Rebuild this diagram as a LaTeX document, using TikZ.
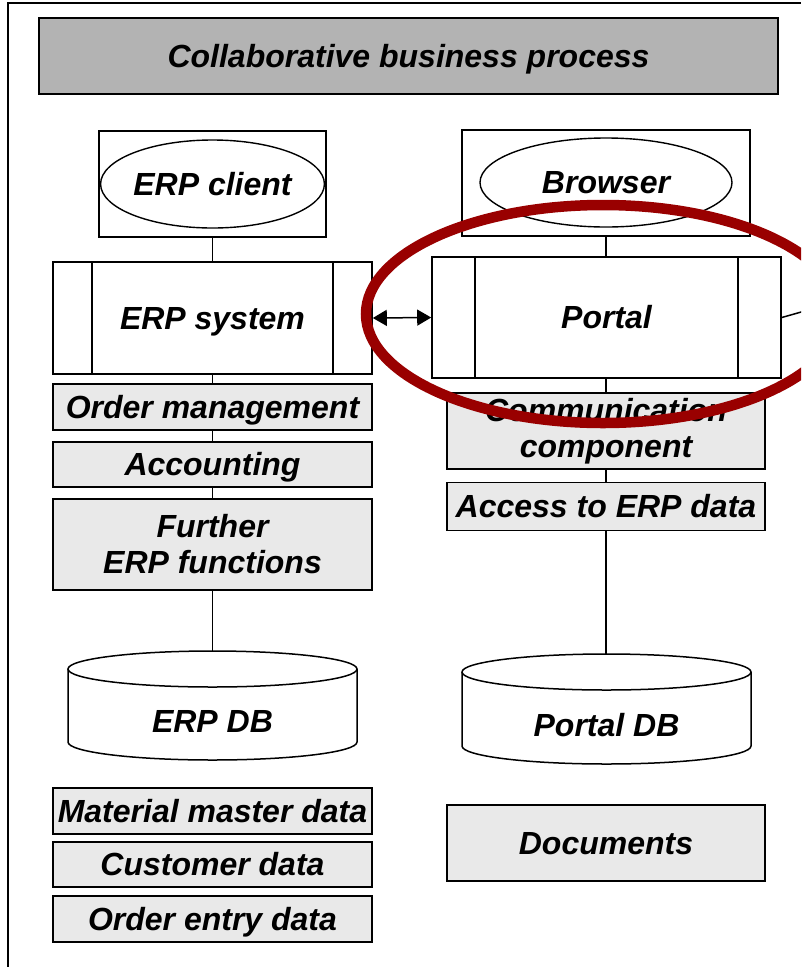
\documentclass[tikz,border=0pt]{standalone}
\usepackage{fontspec}
\setmainfont{Liberation Sans}
\usetikzlibrary{arrows.meta,shapes.geometric}
\definecolor{titlegray}{RGB}{179,179,179}
\definecolor{boxgray}{RGB}{233,233,233}
\definecolor{ringred}{RGB}{153,0,0}
\tikzset{
  lbl/.style={font=\fontsize{32}{36}\selectfont\bfseries\itshape, align=center},
  oneline/.style={text height=25pt, text depth=3pt},
  plainbox/.style={draw, line width=1.6pt, fill=white, inner sep=0pt, lbl},
  graybox/.style={draw, line width=1.9pt, fill=boxgray, inner sep=0pt, lbl},
  oval/.style={ellipse, draw, line width=1.4pt, inner sep=0pt, lbl},
  dbtext/.style={inner sep=0pt, lbl},
  dbshape/.style={draw, line width=1.5pt, fill=white},
  link/.style={line width=1.5pt},
  twoway/.style={line width=1.5pt, {Triangle[length=14pt, width=16pt]}-{Triangle[length=14pt, width=16pt]}},
  ring/.style={draw=ringred, line width=10.5pt},
}
\begin{document}
\begin{tikzpicture}
\begin{scope}[x=1pt,y=-1pt]
\useasboundingbox (0,0) rectangle (801,967);
\clip (0,0) rectangle (801,967);
\fill[white] (0,0) rectangle (801,967);

% outer frame (only left and top edges lie on the page)
\coordinate (fbl) at (8,967);
\coordinate (ftl) at (8,3);
\coordinate (ftr) at (801,3);
\draw[line width=1.5pt] (fbl) -- (ftl) -- (ftr);

% title bar
\node[draw, line width=2.4pt, fill=titlegray, inner sep=0pt, oneline,
      minimum width=739pt, minimum height=76pt,
      font=\fontsize{32}{36}\selectfont\bfseries\itshape] (title) at (408.5,56) {Collaborative business process};

% ---------- ERP column ----------
\node[plainbox, minimum width=227pt, minimum height=106pt] (erpclientbox) at (212.5,184) {};
\node[oval, oneline, minimum width=199pt, minimum height=88pt] (erpclient) at (212.5,184) {ERP client};

\node[plainbox, oneline, minimum width=319pt, minimum height=112pt] (erpsys) at (212.5,318) {ERP system};
\draw[link] ([xshift=40pt]erpsys.north west) -- ([xshift=40pt]erpsys.south west);
\draw[link] ([xshift=-40pt]erpsys.north east) -- ([xshift=-40pt]erpsys.south east);

\node[graybox, oneline, minimum width=319pt, minimum height=46pt] (ordermgmt) at (212.5,407) {Order management};
\node[graybox, oneline, minimum width=319pt, minimum height=45pt] (accounting) at (212.5,464.5) {Accounting};
\node[graybox, minimum width=319pt, minimum height=91pt] (further) at (212.5,544.5) {Further\\ERP functions};

% ERP database cylinder
\node[inner sep=0pt, minimum width=289pt, minimum height=109pt] (erpdb) at (212.5,705.5) {};
\draw[dbshape] (68,669) -- (68,742) arc[start angle=180, end angle=360, x radius=144.5pt, y radius=18pt]
  -- (357,669);
\draw[dbshape] (212.5,669) ellipse [x radius=144.5pt, y radius=18pt];
\node[dbtext, oneline] (erpdblabel) at (212.5,721) {ERP DB};

\node[graybox, oneline, minimum width=319pt, minimum height=46pt] (material) at (212.5,811) {Material master data};
\node[graybox, oneline, minimum width=319pt, minimum height=45pt] (customer) at (212.5,864.5) {Customer data};
\node[graybox, oneline, minimum width=319pt, minimum height=46pt] (orderentry) at (212.5,919) {Order entry data};

% ---------- Portal column ----------
\node[plainbox, minimum width=288pt, minimum height=106pt] (browserbox) at (606,183) {};
\node[oval, oneline, minimum width=252pt, minimum height=89pt] (browser) at (606,182.5) {Browser};

\node[plainbox, oneline, minimum width=349pt, minimum height=121pt] (portal) at (606.5,317.5) {Portal};
\draw[link] ([xshift=44pt]portal.north west) -- ([xshift=44pt]portal.south west);
\draw[link] ([xshift=-44pt]portal.north east) -- ([xshift=-44pt]portal.south east);

\node[graybox, minimum width=318pt, minimum height=76pt] (comm) at (606,431) {Communication\\component};
\node[graybox, oneline, minimum width=318pt, minimum height=48pt] (access) at (606,506.5) {Access to ERP data};

% portal database cylinder
\node[inner sep=0pt, minimum width=289pt, minimum height=110pt] (portaldb) at (606.5,709) {};
\draw[dbshape] (462,672) -- (462,746) arc[start angle=180, end angle=360, x radius=144.5pt, y radius=18pt]
  -- (751,672);
\draw[dbshape] (606.5,672) ellipse [x radius=144.5pt, y radius=18pt];
\node[dbtext, oneline] (portaldblabel) at (606.5,725) {Portal DB};

\node[graybox, oneline, minimum width=318pt, minimum height=76pt] (documents) at (606,843) {Documents};

% ---------- connectors ----------
\draw[link] (erpclientbox) -- (erpsys);
\draw[link] (erpsys) -- (ordermgmt);
\draw[link] (ordermgmt) -- (accounting);
\draw[link] (accounting) -- (further);
\draw[link] (further.south) -- (erpdb.north);

\draw[link] (browserbox) -- (portal.north -| browserbox);
\draw[link] (portal.south -| comm) -- (comm);
\draw[link] (comm) -- (access);
\draw[link] (access.south) -- (access.south |- portaldb.north);

\draw[twoway] (erpsys.east) -- (portal.west);

\coordinate (offright) at (840,301);
\draw[link] (portal.east) -- (offright);

% highlight ring around the portal
\draw[ring] (603,314) ellipse [x radius=237pt, y radius=109pt];
\end{scope}
\end{tikzpicture}
\end{document}
